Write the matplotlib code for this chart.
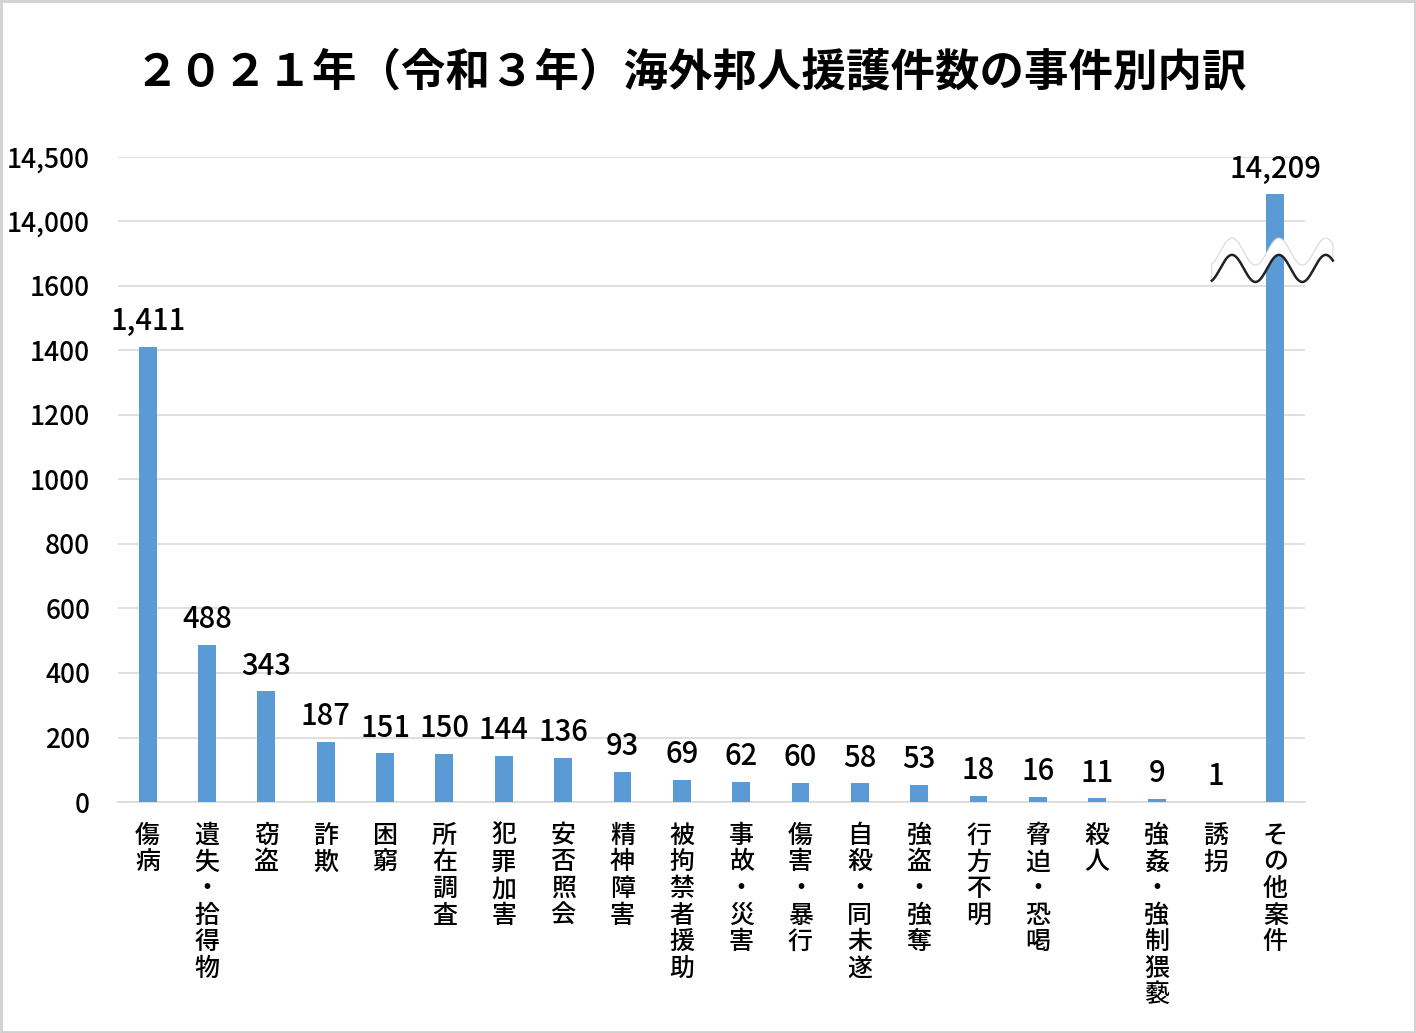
import matplotlib.pyplot as plt
import numpy as np
from matplotlib.patches import Polygon, Rectangle

plt.rcParams['font.family'] = ['Noto Sans CJK JP', 'DejaVu Sans']

# data
categories = ['傷病', '遺失・拾得物', '窃盗', '詐欺', '困窮', '所在調査', '犯罪加害',
              '安否照会', '精神障害', '被拘禁者援助', '事故・災害', '傷害・暴行',
              '自殺・同未遂', '強盗・強奪', '行方不明', '脅迫・恐喝', '殺人',
              '強姦・強制猥褻', '誘拐', 'その他案件']
counts = [1411, 488, 343, 187, 151, 150, 144, 136, 93, 69, 62, 60, 58, 53,
          18, 16, 11, 9, 1, 14209]
tick_values = [0, 200, 400, 600, 800, 1000, 1200, 1400, 1600, 14000, 14500]
tick_labels = ['0', '200', '400', '600', '800', '1000', '1200', '1400', '1600',
               '14,000', '14,500']

BREAK_LO, BREAK_HI = 1800, 14000   # axis jumps from 1800 to 14000


def to_axis(v):
    # broken axis: above 14000, 500 units take the room of 200
    v = np.asarray(v, dtype=float)
    return np.where(v <= BREAK_LO, v, BREAK_LO + (v - BREAK_HI) * 0.4)


fig = plt.figure(figsize=(14.16, 10.33), dpi=100, facecolor='white')
ax = fig.add_axes([0.0833, 0.2236, 0.8383, 0.6246])

x = np.arange(len(categories))
y = to_axis(counts)
ax.bar(x, y, width=0.3, color='#5B9BD5', zorder=3)

for xi, yi, c in zip(x, y, counts):
    ax.annotate(f'{c:,}', (xi, yi), xytext=(0, 7), textcoords='offset points',
                ha='center', va='bottom', fontsize=21, fontweight='medium',
                color='black')

ax.set_xlim(-0.5, len(categories) - 0.5)
ax.set_ylim(0, 2000)
ax.set_yticks(to_axis(tick_values))
ax.set_yticklabels(tick_labels, fontsize=19, fontweight='medium')
ax.yaxis.grid(True, color='#D9D9D9', linewidth=1.2, zorder=0)
ax.tick_params(axis='y', length=0, pad=20)

ax.set_xticks(x)
ax.set_xticklabels(['\n'.join(c) for c in categories], fontsize=18,
                   fontweight='medium', va='top', linespacing=1.03)
ax.tick_params(axis='x', length=0, pad=15)

for s in ['top', 'right', 'left']:
    ax.spines[s].set_visible(False)
ax.spines['bottom'].set_color('#D9D9D9')
ax.spines['bottom'].set_linewidth(1.2)

# wavy break marker across the last bar
last = len(categories) - 1
wx = np.linspace(last - 1.07, last + 0.97, 300)
mid = 1680 + 42 * np.sin(2 * np.pi * (wx - 18.27) / 0.79 + np.pi / 2)
half = 26
upper = mid + half
lower = mid - half
poly = np.vstack([np.column_stack([wx, upper]),
                  np.column_stack([wx[::-1], lower[::-1]])])
ax.add_patch(Polygon(poly, closed=True, facecolor='white', edgecolor='#D8D8D8',
                     linewidth=0.8, zorder=5, clip_on=False))
ax.plot(wx, lower, color='#222222', linewidth=1.8, zorder=6, clip_on=False)

fig.text(0.488, 0.930, '２０２１年（令和３年）海外邦人援護件数の事件別内訳',
         ha='center', va='center', fontsize=32, fontweight='bold')

fig.patches.append(Rectangle((0.001, 0.001), 0.998, 0.998, transform=fig.transFigure,
                             fill=False, edgecolor='#D0D0D0', linewidth=2))

fig.savefig('out.png', dpi=100, facecolor='white')
